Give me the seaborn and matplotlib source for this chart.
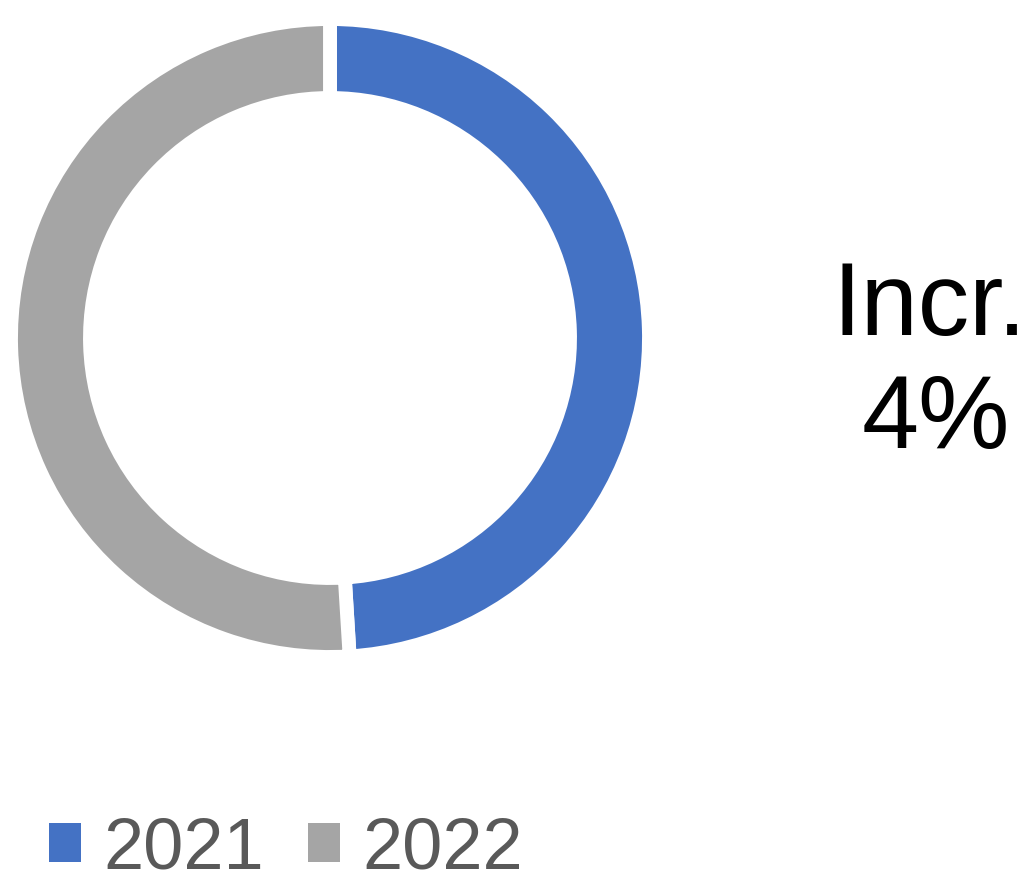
import numpy as np
import matplotlib.pyplot as plt
from matplotlib.patches import Patch
import seaborn as sns

years = ["2021", "2022"]
values = [100, 104]
colors = ["#4472C4", "#A5A5A5"]
label_top = "Incr."
label_bottom = "4%"

sns.set_theme(style="white")
plt.rcParams['font.family'] = ['Liberation Sans', 'DejaVu Sans']

W, H = 1034, 890
fig = plt.figure(figsize=(W / 100, H / 100), dpi=100)
ax = fig.add_axes([0, 0, 1, 1])

ax.pie(values, colors=colors, startangle=90, counterclock=False,
       center=(330, H - 338), radius=319,
       wedgeprops=dict(width=79, edgecolor='white', linewidth=10))
ax.set_xlim(0, W)
ax.set_ylim(0, H)
ax.set_aspect('equal')
ax.axis('off')

ax.text(930, H - 335, label_top, ha='center', va='baseline', fontsize=74, color='black')
ax.text(936, H - 448, label_bottom, ha='center', va='baseline', fontsize=74, color='black')

handles = [Patch(facecolor=c, edgecolor='none') for c in colors]
leg = ax.legend(handles, years, loc='lower left', bbox_to_anchor=(20 / W, -22 / H),
                bbox_transform=fig.transFigure, ncol=2, frameon=False,
                fontsize=52, handlelength=0.44, handleheight=0.44,
                handletextpad=0.32, columnspacing=0.6, borderaxespad=0.0)
for t in leg.get_texts():
    t.set_color('#595959')

fig.savefig('out.png', dpi=100)
